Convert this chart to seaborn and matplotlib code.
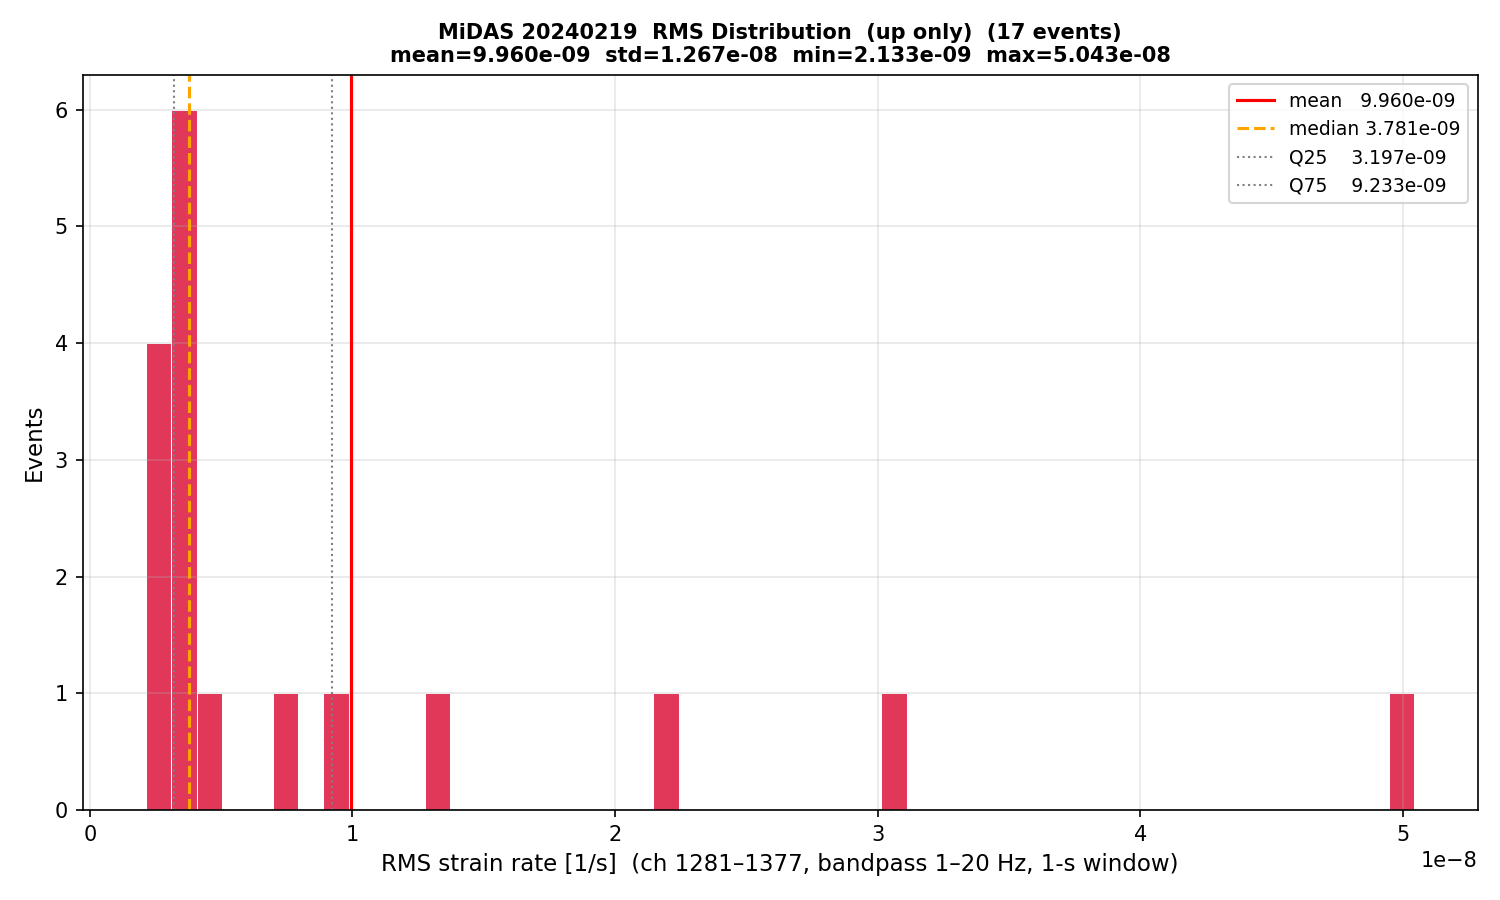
import numpy as np
import matplotlib
matplotlib.use('Agg')
import matplotlib.pyplot as plt
import seaborn as sb

# RMS values per event (units 1e-9 1/s)
rms_values = np.array([2.133, 2.5, 2.7, 2.95, 3.197, 3.4, 3.55, 3.7, 3.781, 3.95,
                       4.6, 7.5, 9.233, 12.9, 21.8, 31.0, 50.43]) * 1e-9

# Summary stats as printed on the chart
mean_val = 9.960e-09
std_val = 1.267e-08
min_val = 2.133e-09
max_val = 5.043e-08
median_val = 3.781e-09
q25_val = 3.197e-09
q75_val = 9.233e-09
n_events = 17

fig, ax = plt.subplots(figsize=(10, 6), dpi=150)

sb.histplot(x=rms_values, bins=50, color='crimson', alpha=0.85,
            edgecolor='white', linewidth=0.5, ax=ax)

ax.axvline(mean_val, color='red', lw=1.5, label=f'mean   {mean_val:.3e}')
ax.axvline(median_val, color='orange', lw=1.5, ls='--', label=f'median {median_val:.3e}')
ax.axvline(q25_val, color='gray', lw=1, ls=':', label=f'Q25    {q25_val:.3e}')
ax.axvline(q75_val, color='gray', lw=1, ls=':', label=f'Q75    {q75_val:.3e}')

ax.set_xlabel('RMS strain rate [1/s]  (ch 1281–1377, bandpass 1–20 Hz, 1-s window)', fontsize=11)
ax.set_ylabel('Events', fontsize=11)
ax.set_title(f'MiDAS 20240219  RMS Distribution  (up only)  ({n_events} events)\n'
             f'mean={mean_val:.3e}  std={std_val:.3e}  min={min_val:.3e}  max={max_val:.3e}',
             fontsize=10, fontweight='bold')
ax.grid(True, alpha=0.3)
ax.legend(loc='upper right', fontsize=9)

plt.subplots_adjust(left=0.055, right=0.985, top=0.917, bottom=0.1)
plt.savefig('out.png', dpi=150)
